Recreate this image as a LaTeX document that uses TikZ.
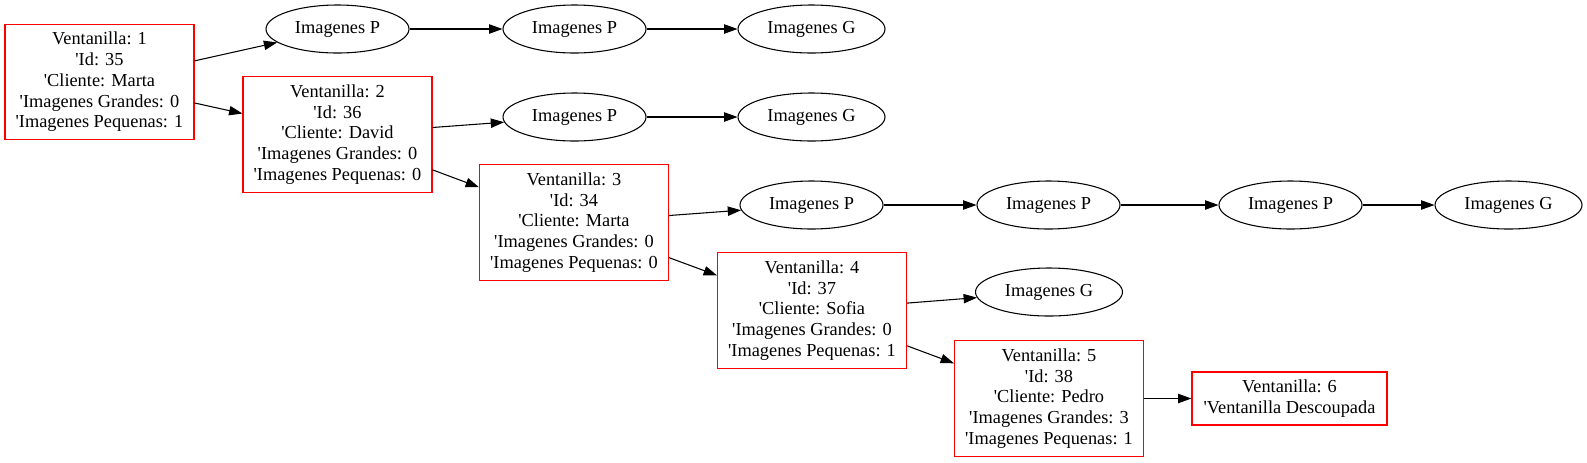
\documentclass[tikz,border=0pt]{standalone}
\usepackage{fontspec}
\setmainfont{Liberation Serif}
\usetikzlibrary{arrows.meta,shapes.geometric}
\definecolor{boxred}{HTML}{FF0000}
\definecolor{ink}{HTML}{000000}
\newcommand{\q}{\textquotesingle}
\tikzset{
  vbox/.style={draw=boxred, line width=0.8pt, rectangle, fill=white,
    align=center, inner sep=2pt, text=ink, minimum width=141.75pt, minimum height=86.5pt},
  vfree/.style={vbox, minimum width=146.25pt, minimum height=39.75pt},
  imgp/.style={draw=ink, line width=0.8pt, ellipse, inner sep=0pt,
    minimum width=107.25pt, minimum height=36pt},
  imgg/.style={imgp, minimum width=110.25pt},
  arr/.style={-{Triangle[length=10pt,width=7pt]}, line width=0.8pt, color=ink},
}

\begin{document}
\begin{tikzpicture}[x=0.75pt, y=-0.75pt, font=\fontsize{13.75pt}{15.6pt}\selectfont]
    \useasboundingbox (0,0) rectangle (1587,462);
    % ventanillas
    \node[vbox] (v1) at (99.5,82) {Ventanilla: 1\\\q Id: 35\\\q Cliente: Marta\\\q Imagenes Grandes: 0\\\q Imagenes Pequenas: 1};
    \node[vbox] (v2) at (337.5,134.5) {Ventanilla: 2\\\q Id: 36\\\q Cliente: David\\\q Imagenes Grandes: 0\\\q Imagenes Pequenas: 0};
    \node[vbox] (v3) at (574,222.5) {Ventanilla: 3\\\q Id: 34\\\q Cliente: Marta\\\q Imagenes Grandes: 0\\\q Imagenes Pequenas: 0};
    \node[vbox] (v4) at (812,310.5) {Ventanilla: 4\\\q Id: 37\\\q Cliente: Sofia\\\q Imagenes Grandes: 0\\\q Imagenes Pequenas: 1};
    \node[vbox] (v5) at (1049,398.5) {Ventanilla: 5\\\q Id: 38\\\q Cliente: Pedro\\\q Imagenes Grandes: 3\\\q Imagenes Pequenas: 1};
    \node[vfree] (v6) at (1289.5,398.5) {Ventanilla: 6\\\q Ventanilla Descoupada};
    % imagenes
    \node[imgp] (p11) at (337.5,29) {Imagenes P};
    \node[imgp] (p12) at (574.5,29) {Imagenes P};
    \node[imgg] (g1) at (811.5,29) {Imagenes G};
    \node[imgp] (p21) at (574.5,117) {Imagenes P};
    \node[imgg] (g2) at (811.5,117) {Imagenes G};
    \node[imgp] (p31) at (811.5,205) {Imagenes P};
    \node[imgp] (p32) at (1048.5,205) {Imagenes P};
    \node[imgp] (p33) at (1290.5,205) {Imagenes P};
    \node[imgg] (g3) at (1508.5,205) {Imagenes G};
    \node[imgg] (g4) at (1049,292) {Imagenes G};
    % conexiones
    \draw[arr] (v1) -- (p11);
    \draw[arr] (p11) -- (p12);
    \draw[arr] (p12) -- (g1);
    \draw[arr] (v1) -- (v2);
    \draw[arr] (v2) -- (p21);
    \draw[arr] (p21) -- (g2);
    \draw[arr] (v2) -- (v3);
    \draw[arr] (v3) -- (p31);
    \draw[arr] (p31) -- (p32);
    \draw[arr] (p32) -- (p33);
    \draw[arr] (p33) -- (g3);
    \draw[arr] (v3) -- (v4);
    \draw[arr] (v4) -- (g4);
    \draw[arr] (v4) -- (v5);
    \draw[arr] (v5) -- (v6);
  \end{tikzpicture}
\end{document}
